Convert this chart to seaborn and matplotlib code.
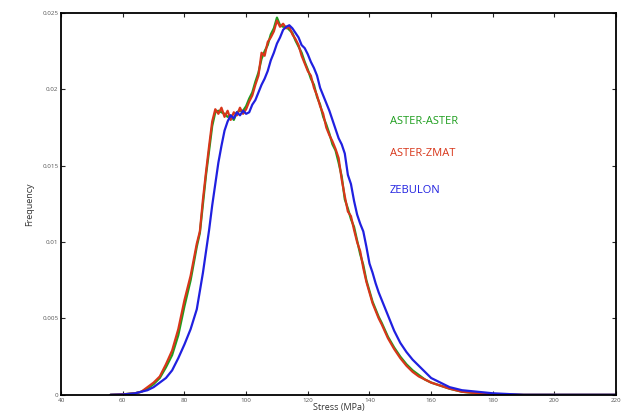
import matplotlib
matplotlib.use("Agg")
import matplotlib.pyplot as plt
import pandas as pd
import seaborn as sns

# stress bins (MPa)
stress = [56, 60, 64, 66, 68, 70, 72, 74, 76, 78,
          80, 82, 84, 85, 86, 87, 88, 89, 90, 91,
          92, 93, 94, 95, 96, 97, 98, 99, 100, 101,
          102, 103, 104, 105, 106, 107, 108, 109, 110, 111,
          112, 113, 114, 115, 116, 117, 118, 119, 120, 121,
          122, 123, 124, 125, 126, 127, 128, 129, 130, 131,
          132, 133, 134, 135, 136, 137, 138, 139, 140, 141,
          142, 143, 144, 146, 148, 150, 152, 154, 156, 158,
          160, 163, 166, 170, 175, 180, 190, 200, 220]

aster_aster = [0, 0.00003, 0.0001, 0.0002, 0.0004, 0.0007, 0.0011, 0.0018, 0.0026, 0.0039,
               0.0058, 0.0075, 0.0097, 0.0106, 0.0125, 0.0144, 0.0160, 0.0176, 0.0185, 0.0186,
               0.0185, 0.0184, 0.0182, 0.0183, 0.0180, 0.0185, 0.0186, 0.0186, 0.0189, 0.0194,
               0.0198, 0.0205, 0.0211, 0.0220, 0.0225, 0.0229, 0.0236, 0.0240, 0.0247, 0.0242,
               0.0241, 0.0241, 0.0239, 0.0237, 0.0232, 0.0228, 0.0224, 0.0218, 0.0213, 0.0207,
               0.0203, 0.0195, 0.0190, 0.0182, 0.0177, 0.0171, 0.0164, 0.0160, 0.0152, 0.0143,
               0.0128, 0.0122, 0.0115, 0.0110, 0.0101, 0.0092, 0.0085, 0.0075, 0.0068, 0.0061,
               0.0056, 0.0051, 0.0047, 0.0038, 0.0031, 0.0025, 0.0020, 0.0016, 0.0013, 0.0010,
               0.0008, 0.0006, 0.0004, 0.0002, 0.0001, 0.00003, 0, 0, 0]

aster_zmat = [0, 0.00003, 0.0001, 0.0002, 0.0005, 0.0008, 0.0012, 0.0020, 0.0029, 0.0043,
              0.0062, 0.0078, 0.0099, 0.0107, 0.0128, 0.0146, 0.0163, 0.0179, 0.0187, 0.0184,
              0.0188, 0.0182, 0.0186, 0.0180, 0.0185, 0.0183, 0.0188, 0.0184, 0.0187, 0.0192,
              0.0196, 0.0203, 0.0209, 0.0224, 0.0222, 0.0231, 0.0234, 0.0238, 0.0245, 0.0241,
              0.0243, 0.0240, 0.0241, 0.0236, 0.0233, 0.0229, 0.0222, 0.0217, 0.0212, 0.0209,
              0.0201, 0.0196, 0.0189, 0.0184, 0.0175, 0.0170, 0.0166, 0.0161, 0.0155, 0.0141,
              0.0130, 0.0120, 0.0117, 0.0108, 0.0100, 0.0094, 0.0083, 0.0074, 0.0067, 0.0060,
              0.0055, 0.0050, 0.0046, 0.0037, 0.0030, 0.0024, 0.0019, 0.0015, 0.0012, 0.0010,
              0.0008, 0.0006, 0.0004, 0.0002, 0.0001, 0.00003, 0, 0, 0]

zebulon = [0, 0.00002, 0.0001, 0.0002, 0.0003, 0.0005, 0.0008, 0.0011, 0.0016, 0.0024,
           0.0033, 0.0043, 0.0056, 0.0068, 0.0080, 0.0094, 0.0108, 0.0124, 0.0138, 0.0152,
           0.0163, 0.0173, 0.0179, 0.0183, 0.0181, 0.0185, 0.0183, 0.0186, 0.0184, 0.0185,
           0.0190, 0.0193, 0.0198, 0.0203, 0.0207, 0.0212, 0.0219, 0.0224, 0.0230, 0.0234,
           0.0239, 0.0241, 0.0242, 0.0240, 0.0237, 0.0234, 0.0229, 0.0227, 0.0223, 0.0218,
           0.0214, 0.0209, 0.0201, 0.0196, 0.0191, 0.0186, 0.0180, 0.0174, 0.0168, 0.0164,
           0.0158, 0.0144, 0.0138, 0.0127, 0.0118, 0.0112, 0.0107, 0.0097, 0.0086, 0.0080,
           0.0073, 0.0067, 0.0062, 0.0052, 0.0042, 0.0034, 0.0028, 0.0023, 0.0019, 0.0015,
           0.0011, 0.0008, 0.0005, 0.0003, 0.0002, 0.0001, 0, 0, 0]

names = ['ASTER-ASTER', 'ASTER-ZMAT', 'ZEBULON']
colors = ['#1e9e1e', '#d8361a', '#2020e0']
x_ticks = [40, 60, 80, 100, 120, 140, 160, 180, 200, 220]
y_ticks = [0, 0.005, 0.01, 0.015, 0.02, 0.025]
y_ticklabels = ['0', '0.005', '0.01', '0.015', '0.02', '0.025']

sns.set_style('white')
plt.rcParams['font.family'] = ['Open Sans', 'DejaVu Sans']

fig = plt.figure(figsize=(6.3, 4.2), dpi=100)
ax = fig.add_axes([0.097, 0.06, 0.881, 0.909])

for name, vals, c in zip(names, [aster_aster, aster_zmat, zebulon], colors):
    df = pd.DataFrame({'stress': stress, 'freq': vals})
    sns.lineplot(data=df, x='stress', y='freq', color=c, linewidth=1.6, ax=ax)

ax.set_xlim(40, 220)
ax.set_ylim(0, 0.025)
ax.set_xticks(x_ticks)
ax.set_xticklabels([str(t) for t in x_ticks])
ax.set_yticks(y_ticks)
ax.set_yticklabels(y_ticklabels)
ax.tick_params(direction='in', length=3, width=0.8, labelsize=4.5, labelcolor='#555555',
               top=True, right=True, bottom=True, left=True, pad=2)
for s in ax.spines.values():
    s.set_color('black')
    s.set_linewidth(1.3)

ax.set_xlabel('Stress (MPa)', fontsize=6.5, color='#333333', labelpad=0)
ax.set_ylabel('Frequency', fontsize=6.5, color='#333333', labelpad=6)

label_y = [0.0179, 0.0158, 0.0134]
for name, yy, c in zip(names, label_y, colors):
    ax.text(146.5, yy, name, color=c, fontsize=8, va='center', ha='left')

fig.savefig('out.png', dpi=100)
